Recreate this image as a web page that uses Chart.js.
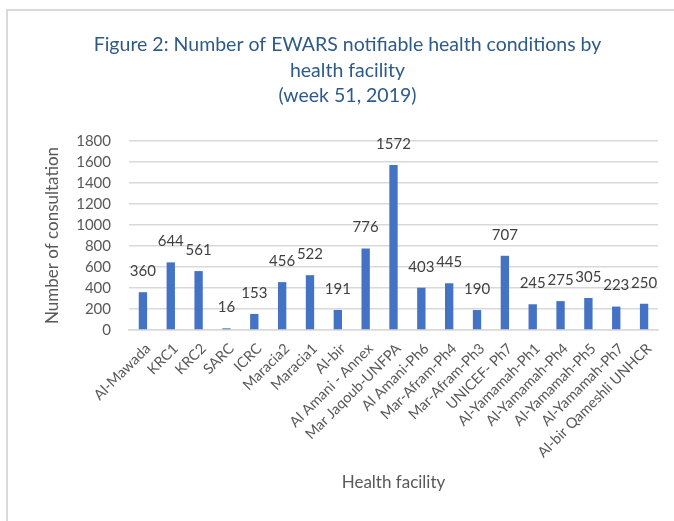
<!DOCTYPE html>
<html>
<head>
<meta charset="utf-8">
<script src="https://cdn.jsdelivr.net/npm/chart.js@4/dist/chart.umd.min.js"></script>
<style>
  html, body { margin: 0; padding: 0; background: #ffffff; overflow: hidden; }
  #wrap { position: relative; width: 674px; height: 521px; }
  #frame { position: absolute; left: 6px; top: 9px; width: 720px; height: 600px; border: 2px solid #d9d9d9; box-sizing: border-box; }
  canvas { position: absolute; left: 0; top: 0; }
</style>
</head>
<body>
<div id="wrap">
  <div id="frame"></div>
  <canvas id="c" width="674" height="521"></canvas>
</div>
<script>
const facilities = [
  "Al-Mawada", "KRC1", "KRC2", "SARC", "ICRC", "Maracia2", "Maracia1", "Al-bir",
  "Al Amani - Annex", "Mar Jaqoub-UNFPA", "Al Amani-Ph6", "Mar-Afram-Ph4",
  "Mar-Afram-Ph3", "UNICEF- Ph7", "Al-Yamamah-Ph1", "Al-Yamamah-Ph4",
  "Al-Yamamah-Ph5", "Al-Yamamah-Ph7", "Al-bir Qameshli UNHCR"
];
const consultations = [360, 644, 561, 16, 153, 456, 522, 191, 776, 1572, 403, 445, 190, 707, 245, 275, 305, 223, 250];
const titleLines = ["Figure 2: Number of EWARS notifiable health conditions by", "health facility", "(week 51, 2019)"];
const yAxisTitle = "Number of consultation";
const xAxisTitle = "Health facility";
const yMin = 0, yMax = 1800, yStep = 200;

const FONT = "Lato, 'Open Sans', sans-serif";

const valueLabels = {
  id: 'valueLabels',
  afterDatasetsDraw(chart) {
    const ctx = chart.ctx;
    const meta = chart.getDatasetMeta(0);
    ctx.save();
    ctx.font = "15px " + FONT;
    ctx.fillStyle = "#404040";
    ctx.textAlign = "center";
    ctx.textBaseline = "middle";
    meta.data.forEach((bar, i) => {
      ctx.fillText(String(chart.data.datasets[0].data[i]), bar.x, bar.y - 21);
    });
    ctx.restore();
  }
};

new Chart(document.getElementById('c'), {
  type: 'bar',
  data: {
    labels: facilities,
    datasets: [{
      data: consultations,
      backgroundColor: "#4472C4",
      borderWidth: 0,
      barPercentage: 0.30,
      categoryPercentage: 1.0
    }]
  },
  options: {
    responsive: false,
    devicePixelRatio: 1,
    animation: false,
    layout: { padding: { left: 37, right: 16, top: 0, bottom: 0 } },
    plugins: {
      legend: { display: false },
      tooltip: { enabled: false },
      title: {
        display: true,
        text: titleLines,
        color: "#2E5A8A",
        font: { family: FONT, size: 19.5, weight: 'normal', lineHeight: 25.5 / 19.5 },
        padding: { top: 32, bottom: 32.5 }
      }
    },
    scales: {
      x: {
        grid: { display: false, drawTicks: false },
        border: { display: true, color: "#d9d9d9", width: 1.5 },
        ticks: {
          color: "#595959",
          font: { family: FONT, size: 14.5 },
          maxRotation: 45, minRotation: 45,
          autoSkip: false,
          labelOffset: 5,
          padding: 10
        },
        title: {
          display: true,
          text: xAxisTitle,
          color: "#595959",
          font: { family: FONT, size: 17 },
          padding: { top: 0, bottom: 28 }
        },
        afterFit(scale) { scale.height = 191; }
      },
      y: {
        min: yMin, max: yMax,
        grid: { color: "#d9d9d9", lineWidth: 1.5, drawTicks: false },
        border: { display: false },
        ticks: {
          stepSize: yStep,
          color: "#595959",
          font: { family: FONT, size: 15 },
          padding: 18,
          callback: (v) => String(v)
        },
        title: {
          display: true,
          text: yAxisTitle,
          color: "#595959",
          font: { family: FONT, size: 17 },
          padding: { top: 5, bottom: 0 }
        },
        afterFit(scale) { scale.width = 92; }
      }
    }
  },
  plugins: [valueLabels]
});
</script>
</body>
</html>
